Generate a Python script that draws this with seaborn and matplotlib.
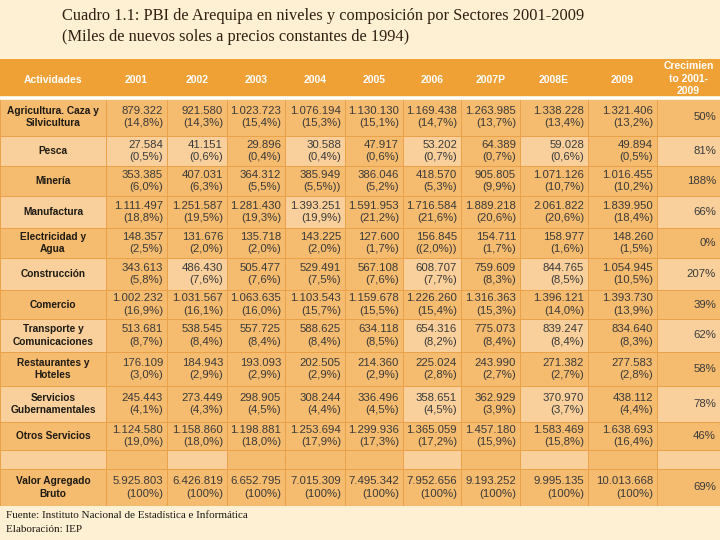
import numpy as np
import pandas as pd
import seaborn as sns
import matplotlib.pyplot as plt
from matplotlib.colors import ListedColormap
from matplotlib.transforms import offset_copy

# Table content (Miles de nuevos soles, precios 1994)
actividades = ["Agricultura. Caza y\nSilvicultura", "Pesca", "Minería", "Manufactura",
               "Electricidad y\nAgua", "Construcción", "Comercio",
               "Transporte y\nComunicaciones", "Restaurantes y\nHoteles",
               "Servicios\nGubernamentales", "Otros Servicios", "Valor Agregado\nBruto"]
anios = ["2001", "2002", "2003", "2004", "2005", "2006", "2007P", "2008E", "2009"]

v2001 = ["879.322", "27.584", "353.385", "1.111.497", "148.357", "343.613", "1.002.232", "513.681", "176.109", "245.443", "1.124.580", "5.925.803"]
p2001 = ["(14,8%)", "(0,5%)", "(6,0%)", "(18,8%)", "(2,5%)", "(5,8%)", "(16,9%)", "(8,7%)", "(3,0%)", "(4,1%)", "(19,0%)", "(100%)"]
v2002 = ["921.580", "41.151", "407.031", "1.251.587", "131.676", "486.430", "1.031.567", "538.545", "184.943", "273.449", "1.158.860", "6.426.819"]
p2002 = ["(14,3%)", "(0,6%)", "(6,3%)", "(19,5%)", "(2,0%)", "(7,6%)", "(16,1%)", "(8,4%)", "(2,9%)", "(4,3%)", "(18,0%)", "(100%)"]
v2003 = ["1.023.723", "29.896", "364.312", "1.281.430", "135.718", "505.477", "1.063.635", "557.725", "193.093", "298.905", "1.198.881", "6.652.795"]
p2003 = ["(15,4%)", "(0,4%)", "(5,5%)", "(19,3%)", "(2,0%)", "(7,6%)", "(16,0%)", "(8,4%)", "(2,9%)", "(4,5%)", "(18,0%)", "(100%)"]
v2004 = ["1.076.194", "30.588", "385.949", "1.393.251", "143.225", "529.491", "1.103.543", "588.625", "202.505", "308.244", "1.253.694", "7.015.309"]
p2004 = ["(15,3%)", "(0,4%)", "(5,5%))", "(19,9%)", "(2,0%)", "(7,5%)", "(15,7%)", "(8,4%)", "(2,9%)", "(4,4%)", "(17,9%)", "(100%)"]
v2005 = ["1.130.130", "47.917", "386.046", "1.591.953", "127.600", "567.108", "1.159.678", "634.118", "214.360", "336.496", "1.299.936", "7.495.342"]
p2005 = ["(15,1%)", "(0,6%)", "(5,2%)", "(21,2%)", "(1,7%)", "(7,6%)", "(15,5%)", "(8,5%)", "(2,9%)", "(4,5%)", "(17,3%)", "(100%)"]
v2006 = ["1.169.438", "53.202", "418.570", "1.716.584", "156.845", "608.707", "1.226.260", "654.316", "225.024", "358.651", "1.365.059", "7.952.656"]
p2006 = ["(14,7%)", "(0,7%)", "(5,3%)", "(21,6%)", "((2,0%))", "(7,7%)", "(15,4%)", "(8,2%)", "(2,8%)", "(4,5%)", "(17,2%)", "(100%)"]
v2007 = ["1.263.985", "64.389", "905.805", "1.889.218", "154.711", "759.609", "1.316.363", "775.073", "243.990", "362.929", "1.457.180", "9.193.252"]
p2007 = ["(13,7%)", "(0,7%)", "(9,9%)", "(20,6%)", "(1,7%)", "(8,3%)", "(15,3%)", "(8,4%)", "(2,7%)", "(3,9%)", "(15,9%)", "(100%)"]
v2008 = ["1.338.228", "59.028", "1.071.126", "2.061.822", "158.977", "844.765", "1.396.121", "839.247", "271.382", "370.970", "1.583.469", "9.995.135"]
p2008 = ["(13,4%)", "(0,6%)", "(10,7%)", "(20,6%)", "(1,6%)", "(8,5%)", "(14,0%)", "(8,4%)", "(2,7%)", "(3,7%)", "(15,8%)", "(100%)"]
v2009 = ["1.321.406", "49.894", "1.016.455", "1.839.950", "148.260", "1.054.945", "1.393.730", "834.640", "277.583", "438.112", "1.638.693", "10.013.668"]
p2009 = ["(13,2%)", "(0,5%)", "(10,2%)", "(18,4%)", "(1,5%)", "(10,5%)", "(13,9%)", "(8,3%)", "(2,8%)", "(4,4%)", "(16,4%)", "(100%)"]
crecimiento = ["50%", "81%", "188%", "66%", "0%", "207%", "39%", "62%", "58%", "78%", "46%", "69%"]

niveles = [v2001, v2002, v2003, v2004, v2005, v2006, v2007, v2008, v2009]
shares = [p2001, p2002, p2003, p2004, p2005, p2006, p2007, p2008, p2009]

# ---- layout (pixel edges of the table grid) ----
col_edges = np.array([0, 106, 167, 227, 285, 345, 403, 461, 520, 588, 657, 720], float)
row_edges = np.array([59, 98, 136, 166, 196, 228, 258, 290, 319, 352, 386, 422, 450, 469, 506], float)
n_cols = len(col_edges) - 1
n_rows = len(row_edges) - 1
# table row of each sector (row 0 = header, row 12 = blank spacer)
sector_rows = list(range(1, 12)) + [13]

# ---- cell shading: 0 dark, 1 light, 2 header ----
shade = np.zeros((n_rows, n_cols))
shade[0, :] = 2
light_cells = {2: [0, 1, 2, 4, 6, 8, 10], 4: [0, 4, 10], 6: [0, 2, 6, 8, 10],
               8: [0, 6, 8, 10], 10: [0, 6, 8, 10], 12: [0, 2, 6, 8, 10]}
for r, cols in light_cells.items():
    shade[r, cols] = 1
shade_df = pd.DataFrame(shade)

bg = "#FDF0D3"
cmap = ListedColormap(["#F5BB6E", "#F9D09B", "#EFA135"])

sns.set_style("white")
plt.rcParams["font.family"] = ["Liberation Sans", "DejaVu Sans"]

fig = plt.figure(figsize=(7.2, 5.4), dpi=100, facecolor=bg)
ax = fig.add_axes([0, 1 - row_edges[-1] / 540, 1, (row_edges[-1] - row_edges[0]) / 540])

sns.heatmap(shade_df, cmap=cmap, vmin=-0.5, vmax=2.5, cbar=False,
            linewidths=0.7, linecolor="#E9A24A",
            xticklabels=False, yticklabels=False, ax=ax)

# piecewise-linear scales so each column/row gets its own width/height
xi = np.arange(n_cols + 1)
yi = np.arange(n_rows + 1)
ypx = row_edges - row_edges[0]
ax.set_xscale("function", functions=(lambda x: np.interp(x, xi, col_edges),
                                     lambda x: np.interp(x, col_edges, xi)))
ax.set_yscale("function", functions=(lambda y: np.interp(y, yi, ypx),
                                     lambda y: np.interp(y, ypx, yi)))
ax.set_xlim(0, n_cols)
ax.set_ylim(n_rows, 0)
ax.set_xticks([])
ax.set_yticks([])
for s in ax.spines.values():
    s.set_visible(False)

# header band without grid lines, white rule below it
ax.axhspan(0, 1, color="#EFA135", zorder=2, lw=0)
ax.axhline(1, color="white", lw=2.6, zorder=3)

# header text
headers = ["Actividades"] + anios
for j, h in enumerate(headers):
    ax.text(j + 0.5, 0.55, h, ha="center", va="center", color="white",
            fontsize=7.5, fontweight="bold", zorder=4)
ax.text(n_cols - 0.5, 0.5, "Crecimien\nto 2001-\n2009", ha="center", va="center",
        color="white", fontsize=7.5, fontweight="bold", linespacing=1.3, zorder=4)

right_pad = offset_copy(ax.transData, fig=fig, x=-4, y=0, units="dots")
txt = "#3A3A3A"
for k, r in enumerate(sector_rows):
    ax.text(0.5, r + 0.5, actividades[k], ha="center", va="center", color="#1E1A14",
            fontsize=7.3, fontweight="bold", linespacing=1.35, zorder=4)
    for j in range(len(anios)):
        ax.text(j + 2, r + 0.5, f"{niveles[j][k]}\n{shares[j][k]}", ha="right",
                va="center", color=txt, fontsize=8.2, linespacing=1.3,
                transform=right_pad, zorder=4)
    ax.text(n_cols, r + 0.5, crecimiento[k], ha="right", va="center", color=txt,
            fontsize=8.2, transform=right_pad, zorder=4)

# title and footer
serif = ["Liberation Serif", "DejaVu Serif"]
fig.text(62 / 720, 1 - 16 / 540, "Cuadro 1.1: PBI de Arequipa en niveles y composición por Sectores 2001-2009",
         family=serif, fontsize=11.8, color="#2E2010", va="center", ha="left")
fig.text(62 / 720, 1 - 37 / 540, "(Miles de nuevos soles a precios constantes de 1994)",
         family=serif, fontsize=11.8, color="#2E2010", va="center", ha="left")
fig.text(6 / 720, 1 - 516 / 540, "Fuente: Instituto Nacional de Estadística e Informática",
         family=serif, fontsize=8, color="#1E1A14", va="center", ha="left")
fig.text(6 / 720, 1 - 530 / 540, "Elaboración: IEP",
         family=serif, fontsize=8, color="#1E1A14", va="center", ha="left")

plt.savefig("out.png", dpi=100, facecolor=fig.get_facecolor())
